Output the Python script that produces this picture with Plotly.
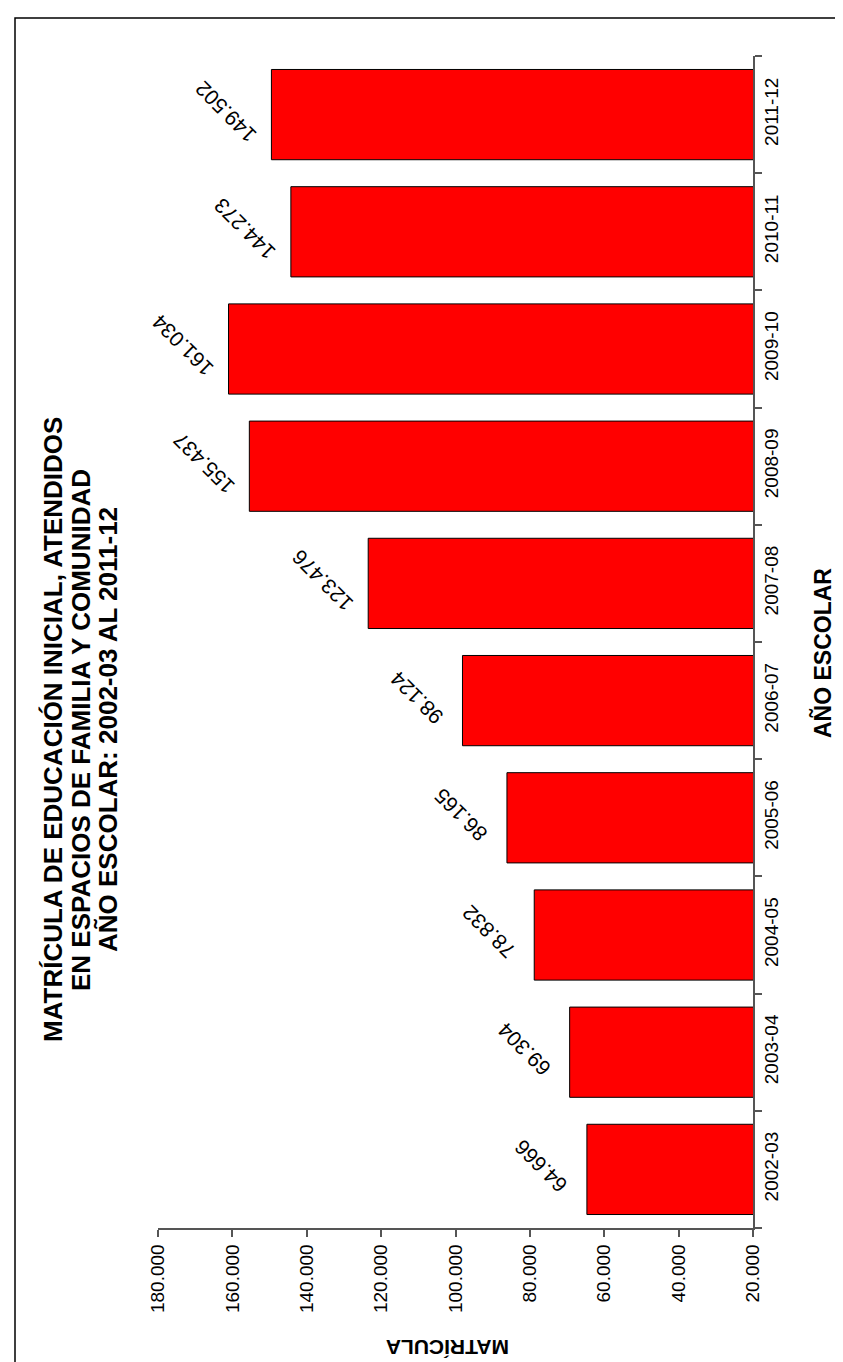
import plotly.graph_objects as go

categories = ["2002-03", "2003-04", "2004-05", "2005-06", "2006-07",
              "2007-08", "2008-09", "2009-10", "2010-11", "2011-12"]
matricula = [64666, 69304, 78832, 86165, 98124, 123476, 155437, 161034, 144273, 149502]
value_ticks = [20000, 40000, 60000, 80000, 100000, 120000, 140000, 160000, 180000]
title_lines = ["MATRÍCULA DE EDUCACIÓN INICIAL, ATENDIDOS",
               "EN ESPACIOS DE FAMILIA Y COMUNIDAD",
               "AÑO ESCOLAR: 2002-03 AL 2011-12"]

W, H = 843, 1362
L, R, T, B = 150, 98, 48, 142
PW, PH = W - L - R, H - T - B

def px(x):
    return (x - L) / PW

def py(y):
    return (H - B - y) / PH

FONT = "Liberation Sans, Arial, Helvetica, sans-serif"

fig = go.Figure()
fig.add_trace(go.Bar(
    y=categories, x=matricula, orientation="h",
    marker=dict(color="#FF0000", line=dict(color="#000000", width=1)),
    hoverinfo="x+y",
))

annotations = []
for c, v in zip(categories, matricula):
    annotations.append(dict(
        x=v, y=c, xref="x", yref="y", text=f"{v:,}".replace(",", "."),
        showarrow=False, textangle=-135, xshift=-46, yshift=3,
        font=dict(family=FONT, size=21, color="#000000"),
        xanchor="center", yanchor="middle",
    ))

for i, (line, xc) in enumerate(zip(title_lines, [45, 73, 100])):
    annotations.append(dict(
        x=px(xc), y=py(722), xref="paper", yref="paper", text=f"<b>{line}</b>",
        showarrow=False, textangle=-90, xanchor="center", yanchor="middle",
        font=dict(family=FONT, size=26, color="#000000"),
    ))

annotations.append(dict(
    x=px(814), y=py(645), xref="paper", yref="paper", text="<b>AÑO ESCOLAR</b>",
    showarrow=False, textangle=-90, xanchor="center", yanchor="middle",
    font=dict(family=FONT, size=23, color="#000000"),
))
annotations.append(dict(
    x=px(440), y=py(1340), xref="paper", yref="paper", text="<b>MATRÍCULA</b>",
    showarrow=False, textangle=180, xanchor="center", yanchor="middle",
    font=dict(family=FONT, size=21, color="#000000"),
))

fig.update_layout(
    width=W, height=H,
    margin=dict(l=L, r=R, t=T, b=B),
    paper_bgcolor="white", plot_bgcolor="white",
    separators=",.",
    showlegend=False,
    bargap=0.23,
    font=dict(family=FONT, size=19, color="#000000"),
    annotations=annotations,
    shapes=[dict(type="rect", xref="paper", yref="paper",
                 x0=px(7), x1=px(860), y0=py(1380), y1=py(10),
                 line=dict(color="#000000", width=1.5), fillcolor="rgba(0,0,0,0)",
                 layer="below")],
    xaxis=dict(
        range=[180000, 20000], tickvals=value_ticks, tickformat=",d",
        tickangle=-90, showgrid=False, zeroline=False,
        showline=True, linecolor="#555555", linewidth=1.5,
        ticks="outside", ticklen=7, tickcolor="#555555", tickwidth=1.5,
        tickfont=dict(family=FONT, size=19, color="#000000"),
        anchor="y", position=0,
    ),
    yaxis=dict(
        type="category", side="right", tickangle=-90,
        showgrid=False, zeroline=False,
        showline=True, linecolor="#555555", linewidth=1.5,
        ticks="outside", ticklen=7, tickcolor="#555555", tickwidth=1.5,
        tickson="boundaries",
        tickfont=dict(family=FONT, size=19, color="#000000"),
    ),
)

fig.write_html("out.html")
